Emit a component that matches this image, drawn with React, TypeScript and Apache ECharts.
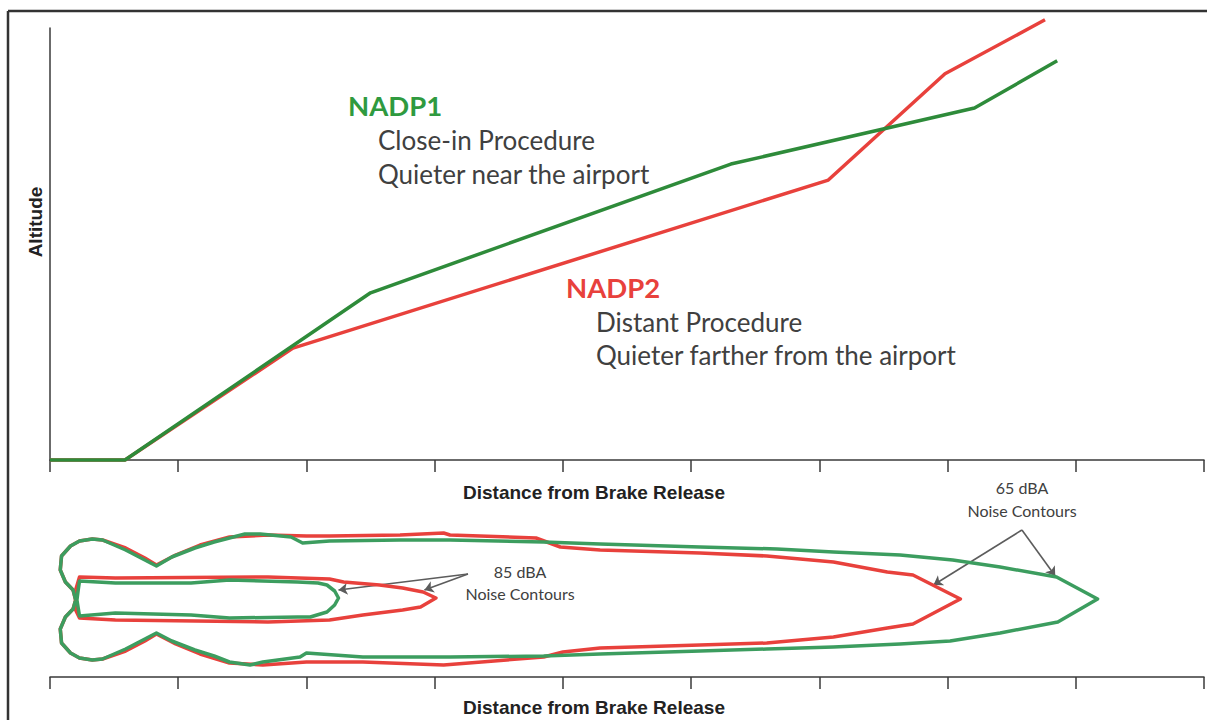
import React, { useEffect, useRef } from "react";
import * as echarts from "echarts";

// ---------- data (distance units 0..9, altitude 0..100, lateral offset) ----------
const distanceRange = [0, 9];
const altitudeRange = [0, 100];
const lateralRange = [-78, 78];

const nadp1Profile: number[][] = [
  [0, 0], [0.585, 0], [2.5, 38.7], [5.31, 68.5], [7.21, 81.5], [7.855, 92.4],
];
const nadp2Profile: number[][] = [
  [0, 0], [0.585, 0], [1.895, 25.9], [6.07, 64.8], [6.98, 89.4], [7.76, 101.9],
];

const nadp1Contour65: number[][] = [
  [0.2, -1], [0.18, 9], [0.12, 17], [0.08, 29], [0.09, 43], [0.16, 53], [0.23, 58],
  [0.33, 60], [0.41, 59], [0.59, 49], [0.74, 39], [0.83, 33], [0.95, 42], [1.13, 51],
  [1.28, 57], [1.52, 65], [1.64, 65], [1.88, 62], [1.97, 56], [2.18, 58], [2.73, 59],
  [3.12, 59], [3.85, 57], [4.29, 55], [5.07, 52], [5.67, 50], [6.11, 47], [6.63, 44],
  [7.04, 39], [7.41, 32], [7.85, 22], [8.17, 0], [7.86, -23], [7.41, -34], [7.02, -42],
  [6.63, -45], [6.11, -48], [5.59, -50], [5.07, -52], [4.29, -55], [3.85, -57],
  [3.12, -58], [2.44, -58], [2.0, -54], [1.95, -58], [1.66, -63], [1.56, -66],
  [1.4, -63], [1.28, -57], [1.13, -51], [0.95, -42], [0.83, -34], [0.74, -40],
  [0.59, -50], [0.41, -60], [0.33, -61], [0.23, -59], [0.16, -54], [0.09, -44],
  [0.08, -30], [0.12, -18], [0.18, -10], [0.2, -1],
];
const nadp2Contour65: number[][] = [
  [0.2, -1], [0.18, 9], [0.12, 17], [0.08, 29], [0.09, 43], [0.16, 53], [0.23, 58],
  [0.33, 60], [0.41, 59], [0.59, 51], [0.74, 41], [0.83, 34], [0.98, 44], [1.17, 54],
  [1.4, 62], [1.7, 64], [2.0, 63], [2.18, 63], [2.73, 64], [3.07, 66], [3.12, 64],
  [3.79, 61], [3.98, 52], [4.29, 49], [5.07, 46], [5.59, 43], [6.11, 37], [6.53, 27],
  [6.73, 24], [7.1, 0], [6.73, -25], [6.53, -29], [6.11, -38], [5.59, -44], [5.07, -46],
  [4.29, -49], [4.0, -53], [3.85, -58], [3.07, -66], [2.44, -63], [2.0, -63],
  [1.66, -66], [1.4, -64], [1.17, -55], [0.98, -45], [0.83, -35], [0.74, -42],
  [0.59, -52], [0.41, -60], [0.33, -61], [0.23, -59], [0.16, -54], [0.09, -44],
  [0.08, -30], [0.12, -18], [0.18, -10], [0.2, -1],
];
const nadp1Contour85: number[][] = [
  [0.21, -1], [0.22, 9], [0.23, 18], [0.51, 16], [1.1, 16], [1.4, 19], [1.93, 17],
  [2.09, 16], [2.16, 14], [2.22, 8], [2.25, 1], [2.22, -6], [2.16, -13], [2.03, -18],
  [1.93, -18], [1.4, -19], [1.1, -16], [0.51, -14], [0.23, -17], [0.22, -9], [0.21, -1],
];
const nadp2Contour85: number[][] = [
  [0.2, 9], [0.23, 22], [0.51, 21], [1.7, 22], [2.18, 20], [2.29, 17], [2.57, 14],
  [2.75, 11], [2.91, 7], [3.01, 1], [2.89, -8], [2.75, -11], [2.44, -16], [2.18, -21],
  [1.7, -23], [0.51, -21], [0.23, -19], [0.2, -11], [0.2, 9],
];

const arrows85: number[][][] = [
  [[3.26, 25], [2.25, 9]],
  [[3.26, 25], [2.92, 9]],
];
const arrows65: number[][][] = [
  [[7.58, 69], [6.89, 14]],
  [[7.58, 69], [7.84, 23]],
];

const xTitle = "Distance from Brake Release";
const yTitle = "Altitude";

const GREEN_LINE = "#2e8b3a";
const RED = "#e8413c";
const GREEN_CONTOUR = "#3c9d5f";
const TEXT = "#404040";
const AXIS = "#3a3a3a";

export default function App() {
  const ref = useRef<HTMLDivElement>(null);

  useEffect(() => {
    if (!ref.current) return;
    const chart = echarts.init(ref.current, undefined, { renderer: "svg" });

    const axisTitleStyle = {
      fontFamily: "Liberation Sans, Arial, sans-serif",
      fontWeight: "bold" as const,
      fontSize: 19,
      color: "#222",
    };

    const xAxisBase = {
      type: "value" as const,
      min: distanceRange[0],
      max: distanceRange[1],
      interval: 1,
      axisLine: { show: true, onZero: false, lineStyle: { color: AXIS, width: 1.5 } },
      axisTick: { show: true, length: 12, lineStyle: { color: AXIS, width: 1.5 } },
      axisLabel: { show: false },
      splitLine: { show: false },
      name: xTitle,
      nameLocation: "middle" as const,
      nameTextStyle: { ...axisTitleStyle, padding: [0, 66, 0, 0] },
    };

    const annot = (text: string, x: number, y: number, size: number, color: string, bold = false) => ({
      type: "text",
      x,
      y,
      style: {
        text,
        fill: color,
        font: `${bold ? "bold " : ""}${size}px Lato, "Open Sans", sans-serif`,
        textVerticalAlign: "middle",
        verticalAlign: "middle",
      },
    });
    const centered = (text: string, x: number, y: number, size: number) => ({
      type: "text",
      x,
      y,
      style: {
        text,
        fill: TEXT,
        font: `${size}px Lato, "Open Sans", sans-serif`,
        align: "center",
        verticalAlign: "middle",
      },
    });

    chart.setOption({
      animation: false,
      backgroundColor: "#ffffff",
      grid: [
        { left: 50, right: 3, top: 28, bottom: 260 },
        { left: 50, right: 3, top: 521, bottom: 43 },
      ],
      xAxis: [
        { ...xAxisBase, gridIndex: 0, nameGap: 23 },
        { ...xAxisBase, gridIndex: 1, nameGap: 21 },
      ],
      yAxis: [
        {
          type: "value",
          gridIndex: 0,
          min: altitudeRange[0],
          max: altitudeRange[1],
          axisLine: { show: true, onZero: false, lineStyle: { color: AXIS, width: 1.5 } },
          axisTick: { show: false },
          axisLabel: { show: false },
          splitLine: { show: false },
          name: yTitle,
          nameLocation: "middle",
          nameGap: 5,
          nameRotate: 90,
          nameTextStyle: { ...axisTitleStyle, padding: [0, 0, 0, 44] },
        },
        {
          type: "value",
          gridIndex: 1,
          min: lateralRange[0],
          max: lateralRange[1],
          show: false,
        },
      ],
      series: [
        {
          name: "NADP2",
          type: "line",
          xAxisIndex: 0,
          yAxisIndex: 0,
          data: nadp2Profile,
          symbol: "none",
          clip: false,
          lineStyle: { color: RED, width: 3.5 },
        },
        {
          name: "NADP1",
          type: "line",
          xAxisIndex: 0,
          yAxisIndex: 0,
          data: nadp1Profile,
          symbol: "none",
          clip: false,
          lineStyle: { color: GREEN_LINE, width: 3.5 },
        },
        {
          name: "NADP2 65 dBA",
          type: "line",
          xAxisIndex: 1,
          yAxisIndex: 1,
          data: nadp2Contour65,
          symbol: "none",
          clip: false,
          lineStyle: { color: RED, width: 3.5, join: "round" },
        },
        {
          name: "NADP2 85 dBA",
          type: "line",
          xAxisIndex: 1,
          yAxisIndex: 1,
          data: nadp2Contour85,
          symbol: "none",
          clip: false,
          lineStyle: { color: RED, width: 3.5, join: "round" },
        },
        {
          name: "NADP1 65 dBA",
          type: "line",
          xAxisIndex: 1,
          yAxisIndex: 1,
          data: nadp1Contour65,
          symbol: "none",
          clip: false,
          lineStyle: { color: GREEN_CONTOUR, width: 3.5, join: "round" },
        },
        {
          name: "NADP1 85 dBA",
          type: "line",
          xAxisIndex: 1,
          yAxisIndex: 1,
          data: nadp1Contour85,
          symbol: "none",
          clip: false,
          lineStyle: { color: GREEN_CONTOUR, width: 3.5, join: "round" },
        },
        {
          name: "arrows",
          type: "lines",
          coordinateSystem: "cartesian2d",
          xAxisIndex: 1,
          yAxisIndex: 1,
          symbol: ["none", "arrow"],
          symbolSize: 9,
          lineStyle: { color: "#5c5c5c", width: 1.6, opacity: 1 },
          data: [...arrows85, ...arrows65].map((c) => ({ coords: c })),
        },
      ],
      graphic: [
        { type: "line", shape: { x1: 8, y1: 11, x2: 1207, y2: 11 }, style: { stroke: "#333", lineWidth: 2.5 } },
        { type: "line", shape: { x1: 8, y1: 11, x2: 8, y2: 720 }, style: { stroke: "#333", lineWidth: 2.5 } },
        annot("NADP1", 348, 105, 27.5, "#2f9a3f", true),
        annot("Close-in Procedure", 378, 140, 26, TEXT),
        annot("Quieter near the airport", 378, 174, 26, TEXT),
        annot("NADP2", 566, 287, 27.5, RED, true),
        annot("Distant Procedure", 596, 322, 26, TEXT),
        annot("Quieter farther from the airport", 596, 355, 26, TEXT),
        centered("85 dBA", 520, 571, 16),
        centered("Noise Contours", 520, 593, 16),
        centered("65 dBA", 1022, 487, 16),
        centered("Noise Contours", 1022, 510, 16),
      ],
    });

    return () => chart.dispose();
  }, []);

  return (
    <div
      ref={ref}
      style={{ position: "absolute", left: 0, top: 0, width: 1207, height: 720 }}
    />
  );
}
